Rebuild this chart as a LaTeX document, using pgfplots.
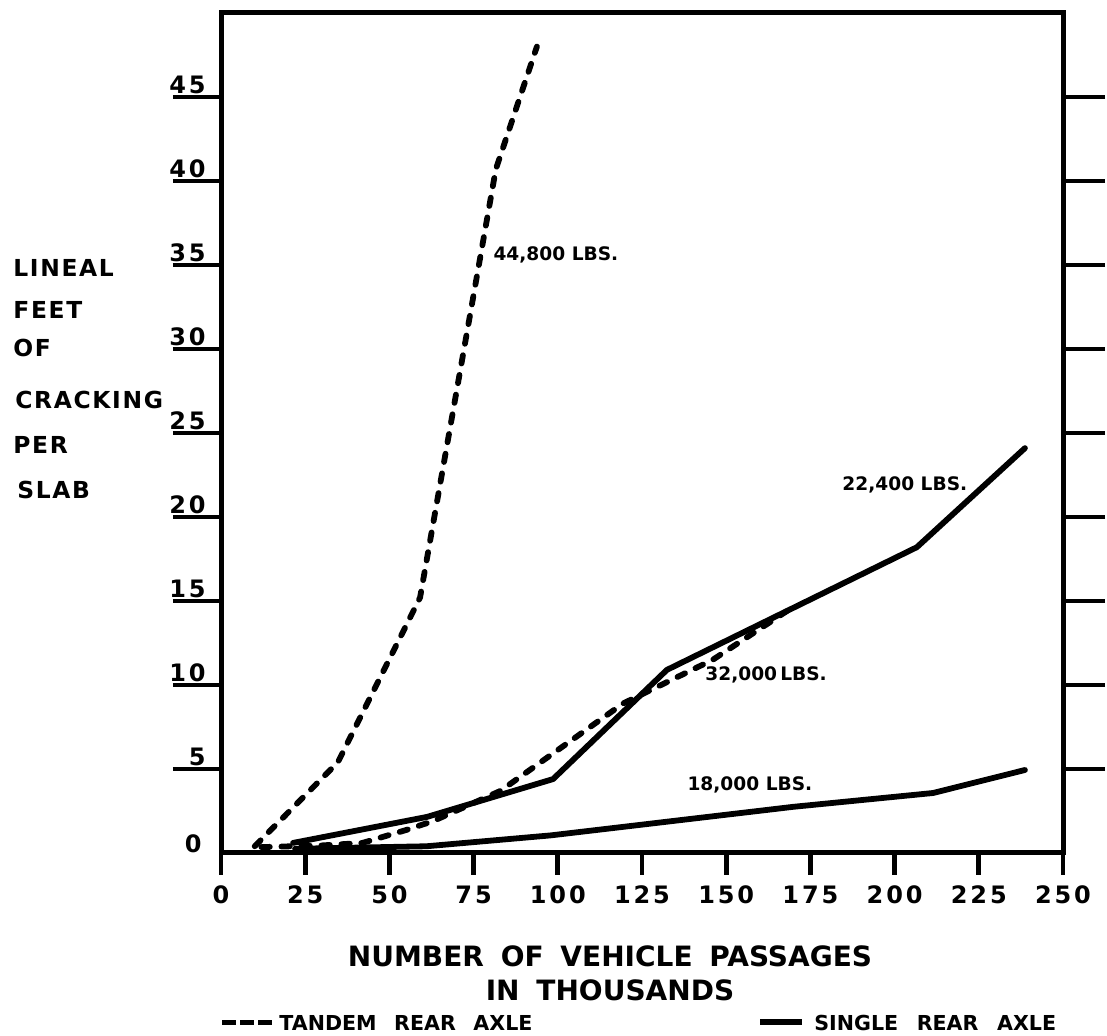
\documentclass[border=0pt]{standalone}
\usepackage{fontspec}
\setmainfont{DejaVu Sans}
\usepackage{pgfplots}
\pgfplotsset{compat=1.18}
\newcommand{\fs}[1]{\fontsize{#1}{#1}\selectfont\bfseries}
\newcommand{\tk}{\fs{12}\addfontfeature{LetterSpace=12}}
\begin{document}
\begin{tikzpicture}[x=1pt,y=1pt]
\useasboundingbox (-110.5,-91.5) rectangle (443,426.5);
% right-side ticks
\begin{axis}[
  at={(0,0)}, anchor=south west, scale only axis, width=421pt, height=420pt,
  xmin=0, xmax=250, ymin=0, ymax=50,
  axis line style={draw=none}, xtick=\empty,
  ytick={5,10,...,45}, ytick pos=right, tick align=outside, major tick length=21pt,
  every tick/.style={black, line width=2.4pt}, yticklabels={},
]
\end{axis}
% left-side ticks and labels
\begin{axis}[
  at={(0,0)}, anchor=south west, scale only axis, width=421pt, height=420pt,
  xmin=0, xmax=250, ymin=0, ymax=50,
  axis line style={draw=none}, xtick=\empty,
  ytick={5,10,...,45}, ytick pos=left, tick align=outside, major tick length=24pt,
  every tick/.style={black, line width=2.4pt},
  /pgf/number format/assume math mode=true,
  yticklabel style={font=\tk, anchor=south east, inner sep=0pt, xshift=16.5pt, yshift=1.5pt},
]
\end{axis}
% main axis
\begin{axis}[
  at={(0,0)}, anchor=south west, scale only axis, width=421pt, height=420pt,
  xmin=0, xmax=250, ymin=0, ymax=50,
  axis line style={line width=2.5pt, line cap=rect},
  xtick={0,25,...,250}, xtick pos=bottom, tick align=outside, major tick length=11pt,
  every tick/.style={black, line width=2.4pt},
  ytick=\empty,
  /pgf/number format/assume math mode=true,
  xticklabel style={font=\tk, anchor=north, inner sep=0pt, yshift=-5pt, text height=8.9pt},
  clip=false,
  every axis plot/.append style={line width=2.9pt, line cap=round, line join=round, black},
]
% 44,800 lbs tandem
\addplot[dash pattern=on 4.2pt off 5.8pt] coordinates {
 (10,0.4) (34.7,5.4) (59.1,15.2) (81.6,40.7) (93.8,48.0)};
% 32,000 lbs tandem
\addplot[dash pattern=on 4.2pt off 5.8pt] coordinates {
 (12,0.35) (30,0.45) (42,0.6) (55,1.37) (63,1.9) (83,3.7) (119.4,8.9) (146,11.5) (168,14.4)};
% 22,400 lbs single
\addplot[solid] coordinates {
 (21.4,0.6) (61.2,2.15) (98.6,4.4) (132.4,10.9) (206.6,18.2) (238.7,24.1)};
% 18,000 lbs single
\addplot[solid] coordinates {
 (22,0.25) (61,0.4) (98,1.05) (170,2.75) (211.4,3.57) (238.7,4.94)};
\node[anchor=west, inner sep=0pt, font=\fs{9.3}] at (axis cs:80.8,35.6) {44,800 LBS.};
\node[anchor=west, inner sep=0pt, font=\fs{9.3}] at (axis cs:184.4,21.9) {22,400 LBS.};
\node[anchor=west, inner sep=0pt, font=\fs{9.3}] at (axis cs:143.7,10.6) {32,000\,LBS.};
\node[anchor=west, inner sep=0pt, font=\fs{9.3}] at (axis cs:138.4,4.05) {18,000 LBS.};
\node[anchor=south east, inner sep=0pt, font=\tk, xshift=-9.5pt] at (axis cs:0,0) {0};
\end{axis}
% y label
\begin{scope}[every node/.style={anchor=west, inner sep=0pt, font=\fs{11.7}\addfontfeature{LetterSpace=7}}]
\node at (-104,292.5) {LINEAL};
\node at (-104,271.5) {FEET};
\node at (-104,252.5) {OF};
\node at (-103,226.5) {CRACKING};
\node at (-104,204) {PER};
\node at (-102,181.5) {SLAB};
\end{scope}
% x label
\node[inner sep=0pt, font=\fs{14}] at (194.5,-51.5) {NUMBER\hspace{0.6em}OF\hspace{0.6em}VEHICLE\hspace{0.6em}PASSAGES};
\node[inner sep=0pt, font=\fs{14}] at (194.5,-68.5) {IN\hspace{0.6em}THOUSANDS};
% legend
\node[anchor=west, inner sep=0pt, font=\fs{10.3}] at (0.5,-85) {\rule[0.25em]{7pt}{2.8pt}\hspace{2pt}\rule[0.25em]{7pt}{2.8pt}\hspace{2pt}\rule[0.25em]{7pt}{2.8pt}\hspace{3.5pt}TANDEM\hspace{0.85em}REAR\hspace{0.85em}AXLE};
\node[anchor=west, inner sep=0pt, font=\fs{10.3}] at (269.5,-85) {\rule[0.25em]{21pt}{3pt}\hspace{6pt}SINGLE\hspace{0.9em}REAR\hspace{0.9em}AXLE};
\end{tikzpicture}
\end{document}
